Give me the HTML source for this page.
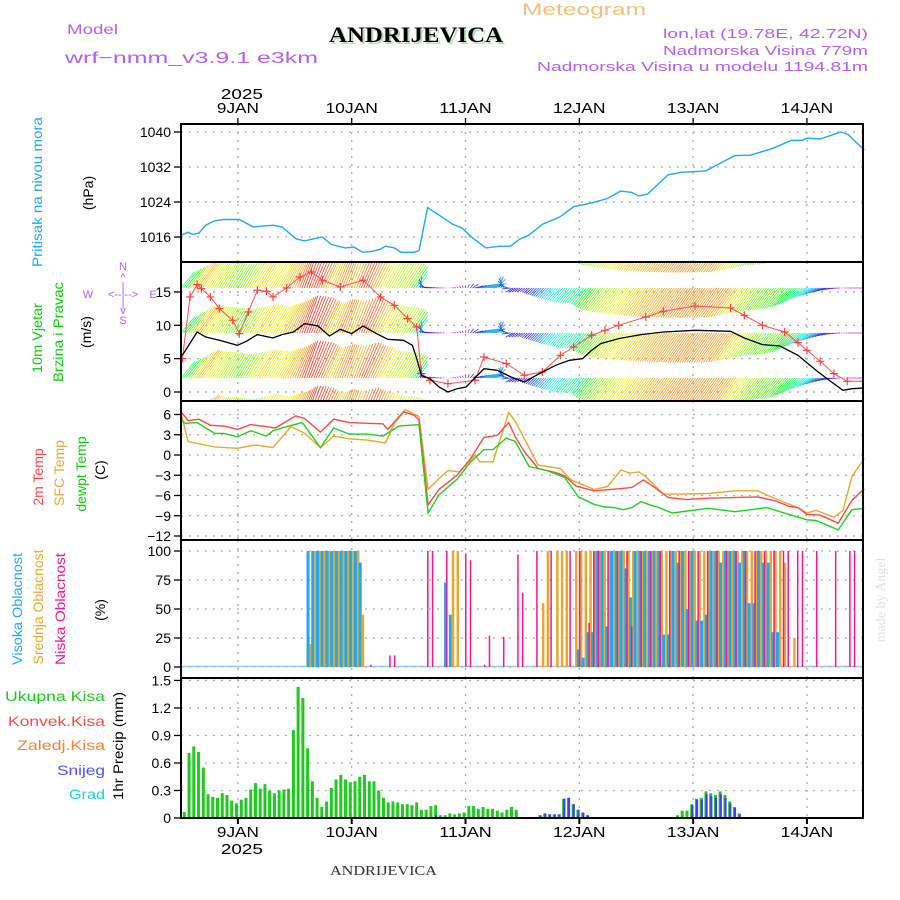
<!DOCTYPE html>
<html><head><meta charset="utf-8"><style>
html,body{margin:0;padding:0;background:#fff;}
svg{display:block;font-family:"Liberation Sans",sans-serif;}
</style></head><body>
<svg id="chart" width="900" height="900" viewBox="0 0 900 900" xmlns="http://www.w3.org/2000/svg">
<defs>
<clipPath id="clipWind"><rect x="181" y="263" width="682" height="137"/></clipPath>
</defs>
<g>
<text x="67" y="34" font-size="14" fill="#b060f0" textLength="51" lengthAdjust="spacingAndGlyphs">Model</text>
<text x="65" y="63" font-size="16" fill="#b060f0" textLength="253" lengthAdjust="spacingAndGlyphs">wrf−nmm_v3.9.1 e3km</text>
<text x="331" y="44" font-size="22" font-weight="bold" font-family="Liberation Serif,serif" fill="#b8d8b8" textLength="174" lengthAdjust="spacingAndGlyphs">ANDRIJEVICA</text>
<text x="329" y="42" font-size="22" font-weight="bold" font-family="Liberation Serif,serif" fill="#000" textLength="174" lengthAdjust="spacingAndGlyphs">ANDRIJEVICA</text>
<text x="522" y="15" font-size="17" fill="#f0c080" textLength="124" lengthAdjust="spacingAndGlyphs">Meteogram</text>
<text x="868" y="38" font-size="13" fill="#b060f0" text-anchor="end" textLength="205" lengthAdjust="spacingAndGlyphs">lon,lat (19.78E, 42.72N)</text>
<text x="868" y="55" font-size="13" fill="#b060f0" text-anchor="end" textLength="205" lengthAdjust="spacingAndGlyphs">Nadmorska Visina 779m</text>
<text x="868" y="71" font-size="13" fill="#b060f0" text-anchor="end" textLength="331" lengthAdjust="spacingAndGlyphs">Nadmorska Visina u modelu 1194.81m</text>
</g>
<g font-size="14">
<text transform="translate(42,192) rotate(-90)" text-anchor="middle" fill="#20a8f0" textLength="150" lengthAdjust="spacingAndGlyphs">Pritisak na nivou mora</text>
<text transform="translate(93,193) rotate(-90)" text-anchor="middle" fill="#000">(hPa)</text>
<text transform="translate(42,338) rotate(-90)" text-anchor="middle" fill="#10c810" textLength="70" lengthAdjust="spacingAndGlyphs">10m Vjetar</text>
<text transform="translate(63,332) rotate(-90)" text-anchor="middle" fill="#10c810" textLength="100" lengthAdjust="spacingAndGlyphs">Brzina i Pravac</text>
<text transform="translate(91,332) rotate(-90)" text-anchor="middle" fill="#000">(m/s)</text>
<g fill="#b060f0" font-size="11" text-anchor="middle">
<text x="123" y="270">N</text><text x="123" y="281">^</text><text x="123" y="290">|</text>
<text x="88" y="298">W</text><text x="123" y="298">&lt;--|--&gt;</text><text x="153" y="298">E</text>
<text x="123" y="307">|</text><text x="123" y="314">v</text><text x="123" y="324">S</text>
</g>
<text transform="translate(43,477) rotate(-90)" text-anchor="middle" fill="#ff4848">2m Temp</text>
<text transform="translate(64,473) rotate(-90)" text-anchor="middle" fill="#e8a830">SFC Temp</text>
<text transform="translate(86,474) rotate(-90)" text-anchor="middle" fill="#10c810">dewpt Temp</text>
<text transform="translate(105,470) rotate(-90)" text-anchor="middle" fill="#000">(C)</text>
<text transform="translate(22,609) rotate(-90)" text-anchor="middle" fill="#20a8f0" textLength="112" lengthAdjust="spacingAndGlyphs">Visoka Oblacnost</text>
<text transform="translate(43,607) rotate(-90)" text-anchor="middle" fill="#e8a830" textLength="115" lengthAdjust="spacingAndGlyphs">Srednja Oblacnost</text>
<text transform="translate(65,609) rotate(-90)" text-anchor="middle" fill="#f01890" textLength="112" lengthAdjust="spacingAndGlyphs">Niska Oblacnost</text>
<text transform="translate(105,610) rotate(-90)" text-anchor="middle" fill="#000">(%)</text>
<g text-anchor="end" font-size="14">
<text x="105" y="701" fill="#20c820" textLength="100" lengthAdjust="spacingAndGlyphs">Ukupna Kisa</text>
<text x="105" y="726" fill="#ff4848" textLength="97" lengthAdjust="spacingAndGlyphs">Konvek.Kisa</text>
<text x="105" y="750" fill="#ff8030" textLength="88" lengthAdjust="spacingAndGlyphs">Zaledj.Kisa</text>
<text x="105" y="775" fill="#5050ff" textLength="48" lengthAdjust="spacingAndGlyphs">Snijeg</text>
<text x="105" y="799" fill="#20d0d0" textLength="36" lengthAdjust="spacingAndGlyphs">Grad</text>
</g>
<text transform="translate(123,746) rotate(-90)" text-anchor="middle" fill="#000" textLength="108" lengthAdjust="spacingAndGlyphs">1hr Precip (mm)</text>
</g>
<text transform="translate(885,600) rotate(-90)" text-anchor="middle" font-family="Liberation Serif,serif" font-size="14" fill="#d8e4d8">made by Angel</text>
<text x="330" y="875" font-family="Liberation Serif,serif" font-size="14" fill="#333" textLength="107" lengthAdjust="spacingAndGlyphs">ANDRIJEVICA</text>
<g id="plots"></g>
</svg>
<script>
// ---------- data ----------
const dayLabels = ["9JAN","10JAN","11JAN","12JAN","13JAN","14JAN"];
const pressTicks = [1040,1032,1024,1016];
const windTicks = [15,10,5,0];
const tempTicks = [6,3,0,-3,-6,-9,-12];
const cloudTicks = [100,75,50,25,0];
const precipTicks = [1.5,1.2,0.9,0.6,0.3,0];

const pressHours = [0,1.5,2.4,3.8,5.2,7.1,9.0,12.3,15.2,19.4,21.3,24.2,26.0,29.8,31.7,34.6,36.5,38.3,40.2,42.1,43.1,45.0,46.4,49.2,50.2,52.0,54.4,57.3,59.2,61.5,64.3,67.2,69.5,71.4,73.3,76.2,79.9,82.8,86.6,89.9,92.7,95.1,96.5,98.4,102.7,105.5,110.7,113.1,116.8,120.1,124.9,128.7,131.0,132.0,134.8,139.1,140.7,142.4,144.1];
const pressVals = [1016.4,1017.1,1016.6,1016.9,1018.7,1019.7,1020.0,1020.0,1018.3,1018.7,1018.3,1015.6,1015.1,1016.0,1014.3,1013.5,1013.7,1012.5,1012.7,1013.2,1013.9,1013.5,1012.5,1012.5,1012.9,1022.7,1021.0,1018.9,1018.1,1015.8,1013.5,1013.9,1013.9,1015.5,1016.4,1018.9,1020.6,1022.9,1023.8,1024.8,1026.5,1026.2,1025.4,1025.8,1030.2,1030.8,1031.1,1032.5,1034.6,1034.7,1036.3,1038.1,1038.1,1038.6,1038.4,1040.0,1039.4,1037.6,1035.9];

const speedHours = [0.3,3.4,5.2,8.1,11.9,13.8,16.1,19.4,21.3,23.7,26.1,28.9,31.3,33.6,36.0,38.4,41.2,43.6,46.9,48.8,49.7,50.7,52.5,54.4,56.3,58.2,60.1,63.9,66.7,69.6,72.4,75.3,79.0,81.9,84.7,86.6,88.5,92.3,97.0,101.7,108.4,115.9,118.8,122.6,126.3,130.1,133.9,136.7,139.6,141.5,144.1];
const speedVals = [5.5,9.0,8.25,7.75,7.0,7.6,8.6,8.1,8.6,9.0,10.25,9.9,8.4,9.4,8.75,9.9,8.75,7.9,7.75,7.0,5.0,2.5,2.0,0.75,0,0.5,0.75,3.5,3.25,2.25,1.5,2.65,4.0,4.75,5.0,6.25,7.25,8.0,8.6,9.0,9.25,9.1,8.1,7.1,6.9,5.5,3.25,1.75,0.25,0.5,0.6];
const gustHours = [0.3,1.9,3.4,4.3,6.2,8.1,10.9,12.3,14.2,16.1,18.0,19.4,22.3,25.1,27.5,29.8,33.6,38.4,42.1,45.0,47.8,49.7,50.7,52.5,56.3,62.0,63.9,68.6,72.4,76.2,80.0,82.8,86.6,89.4,92.3,98.0,101.7,108.4,115.9,118.8,122.6,127.3,130.1,132.0,134.8,137.7,140.5,144.1];
const gustVals = [5.0,14.25,16.1,15.5,14.25,12.5,10.75,8.75,12.0,15.25,15.1,14.25,15.6,17.25,18.0,16.75,15.75,16.75,14.25,13.0,11.0,9.75,2.75,1.75,1.25,1.75,5.25,4.25,2.5,3.0,5.5,6.75,8.5,9.25,10.0,11.25,12.1,12.9,12.6,11.5,10.0,9.0,7.4,6.25,4.6,2.75,1.6,1.6];
const dirHours = [0,5,10,20,26,30,35,40,45,50,52,55,58,62,66,70,74,80,100,120,128,134,140,144];
const dirVals = [220,215,210,212,200,205,200,205,210,215,100,95,110,255,250,60,45,40,35,35,40,60,90,90];

const t2Hours = [0,1.5,3.8,6.2,9.0,11.9,14.7,18.0,19.9,24.2,26.1,29.4,32.2,35.5,39.3,42.6,43.6,46.9,49.2,50.2,52.1,54.4,58.2,61.1,63.9,66.7,69.1,70.5,72.4,75.3,79.0,80.9,83.3,87.1,92.3,95.1,97.5,99.9,102.7,106.5,111.2,121.6,125.4,128.2,130.1,132.0,134.8,138.6,141.5,144.1];
const t2Vals = [6.4,5.1,5.3,4.4,4.3,3.8,4.5,4.2,4.0,5.8,5.4,3.4,5.3,4.8,4.7,4.6,3.8,6.4,5.9,5.2,-7.4,-5.1,-3.0,-0.5,2.6,2.9,4.8,2.7,0.5,-2.0,-2.6,-3.1,-4.6,-5.3,-5.0,-4.8,-3.7,-4.8,-6.3,-6.6,-6.4,-6.2,-6.8,-7.6,-7.8,-8.8,-8.9,-10.1,-6.7,-5.0];
const sfcHours = [0,1.5,3.4,7.1,11.9,15.7,19.4,23.2,26.1,29.4,32.2,35.5,39.3,43.1,45.0,47.3,50.2,52.1,54.4,56.3,58.7,62.0,63.0,65.8,69.1,70.5,75.3,80.0,82.3,87.1,89.9,92.8,94.6,96.5,98.0,101.7,105.5,111.2,116.9,121.6,124.4,130.1,132.0,133.9,137.7,139.6,141.5,144.1];
const sfcVals = [6.2,2.0,1.7,1.2,1.0,1.5,1.1,4.2,3.2,1.1,2.8,2.4,2.2,1.8,4.7,6.7,5.7,-5.1,-3.5,-2.3,-2.5,0,-1.0,-1.0,6.3,5.0,-1.5,-2.0,-3.7,-5.1,-4.7,-2.2,-2.7,-2.5,-3.2,-5.8,-5.8,-5.7,-5.3,-5.3,-6.2,-7.8,-8.6,-8.2,-9.2,-8.2,-3.2,-0.5];
const dewHours = [0,1.0,3.4,7.1,9.0,11.9,14.7,18.0,19.4,22.3,25.6,29.4,32.2,35.5,39.3,42.6,45.9,50.2,52.1,54.4,58.2,61.1,63.9,65.8,68.6,70.5,73.4,77.1,80.9,83.8,87.1,89.4,91.3,93.2,95.1,97.0,98.9,100.8,103.6,111.2,116.9,123.5,128.2,132.0,133.9,138.6,141.5,144.1];
const dewVals = [5.1,4.7,4.8,3.2,3.2,2.7,3.6,2.8,3.6,4.2,4.8,1.1,4.0,3.1,3.1,2.8,4.3,4.5,-8.6,-5.9,-3.6,-1.0,0.8,0.8,2.5,2.0,-1.7,-2.3,-3.3,-6.2,-7.3,-7.7,-7.8,-8.1,-7.8,-6.9,-7.4,-7.8,-8.6,-7.9,-8.4,-7.8,-8.8,-9.6,-9.7,-11.1,-8.1,-7.9];

const cloudHours = [27,28,29,30,31,32,33,34,35,36,37,38,40,44,45,52,53,56,57,58,60,61,64,65,68,71,72,75,76,77,78,79,80,81,82,83,84,85,86,87,88,89,90,91,92,93,94,95,96,97,98,99,100,101,102,103,104,105,106,107,108,109,110,111,112,113,114,115,116,117,118,119,120,121,122,123,124,125,126,127,128,129,130,131,134,138,141,142];
const cloudHigh = [100,100,100,100,100,100,100,100,100,100,100,90,0,0,0,0,0,73,45,0,0,0,0,0,0,0,0,0,0,0,0,0,0,0,0,0,15,8,30,30,100,100,35,100,100,100,85,60,100,100,100,100,100,100,28,28,100,90,100,50,100,40,40,45,100,100,90,100,100,100,90,100,55,55,100,90,90,30,30,0,0,0,0,0,0,0,0,0];
const cloudMid = [20,100,100,100,100,100,100,100,100,100,100,45,0,0,0,0,0,0,100,100,0,0,0,0,0,0,0,0,55,100,0,100,100,100,0,100,100,100,100,100,100,100,100,100,100,100,100,100,100,100,100,100,100,100,100,100,100,100,100,100,100,100,100,100,100,100,100,100,100,100,100,100,100,100,100,100,100,100,100,90,0,25,0,0,0,0,0,0];
const cloudLow = [0,0,0,0,0,0,0,0,0,0,0,0,2,10,10,100,100,100,0,0,98,92,2,27,26,97,64,100,0,0,100,0,0,0,100,0,100,0,38,100,100,0,100,0,100,0,100,35,0,100,0,100,0,100,0,100,0,100,0,100,0,100,0,100,0,100,0,100,0,100,0,100,0,100,0,100,0,100,0,100,100,0,100,100,100,100,100,100];

const precipTotal = [0.065,0.71,0.78,0.72,0.55,0.26,0.23,0.22,0.27,0.25,0.19,0.16,0.20,0.22,0.31,0.38,0.32,0.37,0.30,0.27,0.30,0.31,0.32,0.96,1.43,1.31,0.76,0.40,0.22,0.12,0.18,0.33,0.42,0.47,0.42,0.39,0.40,0.45,0.47,0.40,0.40,0.30,0.22,0.17,0.18,0.17,0.15,0.15,0.14,0.17,0.09,0.09,0.13,0.14,0.03,0.03,0.05,0.04,0.05,0.06,0.13,0.13,0.10,0.12,0.10,0.10,0.08,0.06,0.09,0.12,0.09,0,0,0,0,0.03,0.05,0.04,0.04,0.04,0.21,0.22,0.15,0.09,0.06,0.03,0,0,0,0,0,0,0,0,0,0,0,0,0,0,0,0,0,0.01,0.03,0.08,0.08,0.15,0.21,0.22,0.29,0.27,0.25,0.29,0.25,0.18,0.12,0.05,0,0,0,0,0,0.01,0,0,0,0,0,0,0,0,0,0,0,0,0,0,0,0,0,0,0,0];
const precipSnow = [0,0,0,0,0,0,0,0,0,0,0,0,0,0,0,0,0,0,0,0,0,0,0,0,0,0,0,0,0,0,0,0,0,0,0,0,0,0,0,0,0,0,0,0,0,0,0,0,0,0,0,0,0,0.03,0,0,0,0,0,0,0,0,0,0,0,0,0,0,0,0,0,0,0,0,0,0.03,0.05,0.04,0.04,0.04,0.21,0.22,0.15,0.09,0.06,0.03,0,0,0,0,0,0,0,0,0,0,0,0,0,0,0,0,0,0,0,0,0,0.14,0.2,0.2,0.26,0.24,0.22,0.26,0.22,0.16,0.11,0.04,0,0,0,0,0,0.01,0,0,0,0,0,0,0,0,0,0,0,0,0,0,0,0,0,0,0,0];

// ---------- axes ----------
const X0 = 181, PXH = 4.742;
const xH = h => X0 + h * PXH;
const yP = p => 132 + (1040 - p) * 4.375;
const yW = v => 392 - v * 6.67;
const yT = t => 455 - t * 6.75;
const yC = c => 667 - c * 1.16;
const yR = r => 818 - r * 91.7;
const NS = "http://www.w3.org/2000/svg";
const plots = document.getElementById("plots");
function el(tag, attrs, parent) {
  const e = document.createElementNS(NS, tag);
  for (const k in attrs) e.setAttribute(k, attrs[k]);
  (parent || plots).appendChild(e);
  return e;
}
function linePath(hs, vs, yf) {
  return hs.map((h, i) => (i ? "L" : "M") + xH(h).toFixed(1) + "," + yf(vs[i]).toFixed(1)).join("");
}
function interp(hs, vs, t) {
  if (t <= hs[0]) return vs[0];
  for (let i = 1; i < hs.length; i++) if (t <= hs[i]) { const f = (t - hs[i-1]) / (hs[i] - hs[i-1]); return vs[i-1] + f * (vs[i] - vs[i-1]); }
  return vs[vs.length - 1];
}

const panels = [
  {name:"pressure", top:124, bot:262, ticks:pressTicks, yf:yP, fmt:v=>String(v)},
  {name:"wind", top:262, bot:401, ticks:windTicks, yf:yW, fmt:v=>String(v)},
  {name:"temp", top:401, bot:540, ticks:tempTicks, yf:yT, fmt:v=>v<0?"\u2212"+(-v):String(v)},
  {name:"cloud", top:540, bot:678, ticks:cloudTicks, yf:yC, fmt:v=>String(v)},
  {name:"precip", top:678, bot:818, ticks:precipTicks, yf:yR, fmt:v=>v===0?"0":v.toFixed(1)}
];
panels.forEach(p => {
  const g = el("g", {});
  
  
  p.ticks.forEach(v => {
    const y = p.yf(v);
    const gl = el("line", {x1:181, x2:863, y1:y, y2:y, stroke:"#aaa", "stroke-width":1.3, "stroke-dasharray":"2,6"}, g);
    
    
    const tk = el("line", {x1:174, x2:180, y1:y, y2:y, stroke:"#000", "stroke-width":1.3}, g);
    
    
    const tl = el("text", {x:171, y:y+5, "text-anchor":"end", "font-size":14, fill:"#000"}, g);
    tl.textContent = p.fmt(v);
    
    
  });
  for (let d = 0; d < 6; d++) {
    const x = xH(12 + 24 * d);
    const vl = el("line", {x1:x, x2:x, y1:p.top, y2:p.bot, stroke:"#aaa", "stroke-width":1.3, "stroke-dasharray":"2,6"}, g);
    
    
  }
});
for (let d = 0; d < 6; d++) {
  const x = xH(12 + 24 * d);
  const t1 = el("text", {x:x, y:113, "text-anchor":"middle", "font-size":15, fill:"#000", textLength:dayLabels[d].length*10.5, lengthAdjust:"spacingAndGlyphs"});
  t1.textContent = dayLabels[d];
  
  
  const t2 = el("text", {x:x, y:837, "text-anchor":"middle", "font-size":15, fill:"#000", textLength:dayLabels[d].length*10.5, lengthAdjust:"spacingAndGlyphs"});
  t2.textContent = dayLabels[d];
  
  
  const tt = el("line", {x1:x, x2:x, y1:118, y2:124, stroke:"#000", "stroke-width":1.3});
  
  
  const bt = el("line", {x1:x, x2:x, y1:818, y2:824, stroke:"#000", "stroke-width":2});
  
  
}
const y1 = el("text", {x:xH(12)+4, y:99, "text-anchor":"middle", "font-size":15, textLength:42, lengthAdjust:"spacingAndGlyphs"});
y1.textContent = "2025";


const y2 = el("text", {x:xH(12)+4, y:854, "text-anchor":"middle", "font-size":15, textLength:42, lengthAdjust:"spacingAndGlyphs"});
y2.textContent = "2025";



const pl = el("path", {d:linePath(pressHours, pressVals, yP), fill:"none", stroke:"#20a8f0", "stroke-width":1.4});



const wg = el("g", {"clip-path":"url(#clipWind)"});


const rowBases = [243, 288, 333, 378, 423];
for (let t = 0; t <= 144; t += 0.5) {
  const s = interp(speedHours, speedVals, t);
  const dir = interp(dirHours, dirVals, t);
  const to = (dir + 180) * Math.PI / 180;
  const L = 3.9 * s;
  const dx = Math.sin(to) * L, dy = -Math.cos(to) * L;
  const hue = ((300 - 29 * s) % 360 + 360) % 360;
  const col = "hsl(" + hue.toFixed(0) + ",90%,55%)";
  const x = xH(t);
  rowBases.forEach(b => {
    const a = el("line", {x1:x.toFixed(1), y1:b, x2:(x+dx).toFixed(1), y2:(b+dy).toFixed(1), stroke:col, "stroke-width":0.8}, wg);
    
    
  });
}
const gl2 = el("path", {d:linePath(gustHours, gustVals, yW), fill:"none", stroke:"#ff5050", "stroke-width":1, "clip-path":"url(#clipWind)"});


gustHours.forEach((h, i) => {
  const x = xH(h), y = yW(gustVals[i]);
  const m = el("path", {d:"M"+(x-4)+","+y+"h8M"+x+","+(y-4)+"v8", stroke:"#ff4040", "stroke-width":1.2, "clip-path":"url(#clipWind)"});
  
  
});
const sl = el("path", {d:linePath(speedHours, speedVals, yW), fill:"none", stroke:"#000", "stroke-width":1.3, "clip-path":"url(#clipWind)"});



const tsfc = el("path", {d:linePath(sfcHours, sfcVals, yT), fill:"none", stroke:"#e8a830", "stroke-width":1.4});


const t2l = el("path", {d:linePath(t2Hours, t2Vals, yT), fill:"none", stroke:"#ff4848", "stroke-width":1.4});


const tdl = el("path", {d:linePath(dewHours, dewVals, yT), fill:"none", stroke:"#20d020", "stroke-width":1.4});



const base = el("line", {x1:181, x2:863, y1:666.5, y2:666.5, stroke:"#9cc8e0", "stroke-width":1.5});


cloudHours.forEach((h, i) => {
  const x = xH(h);
  if (cloudHigh[i] > 0) {
    const r = el("rect", {x:x-2.5, y:yC(cloudHigh[i]), width:3, height:667-yC(cloudHigh[i]), fill:"#20a8f0"});
    
    
  }
  if (cloudMid[i] > 0) {
    const r = el("rect", {x:x+0.5, y:yC(cloudMid[i]), width:2.5, height:667-yC(cloudMid[i]), fill:"#e8a830"});
    
    
  }
  if (cloudLow[i] > 0) {
    const r = el("rect", {x:x-0.5, y:yC(cloudLow[i]), width:1.5, height:667-yC(cloudLow[i]), fill:"#f01890"});
    
    
  }
});

precipTotal.forEach((v, i) => {
  if (v <= 0) return;
  const x = xH(i + 0.7);
  const r = el("rect", {x:x-1.5, y:yR(v), width:3, height:818-yR(v), fill:"#20c820"});
  
  
  const sv = precipSnow[i];
  if (sv > 0) {
    const s = el("rect", {x:x-0.5, y:yR(sv), width:2.2, height:818-yR(sv), fill:"#4040f0"});
    
    
  }
});

panels.forEach(p => {
  const f = el("rect", {x:181, y:p.top, width:682, height:p.bot-p.top, fill:"none", stroke:"#000", "stroke-width":2});
  
  
});
</script>
</body></html>
